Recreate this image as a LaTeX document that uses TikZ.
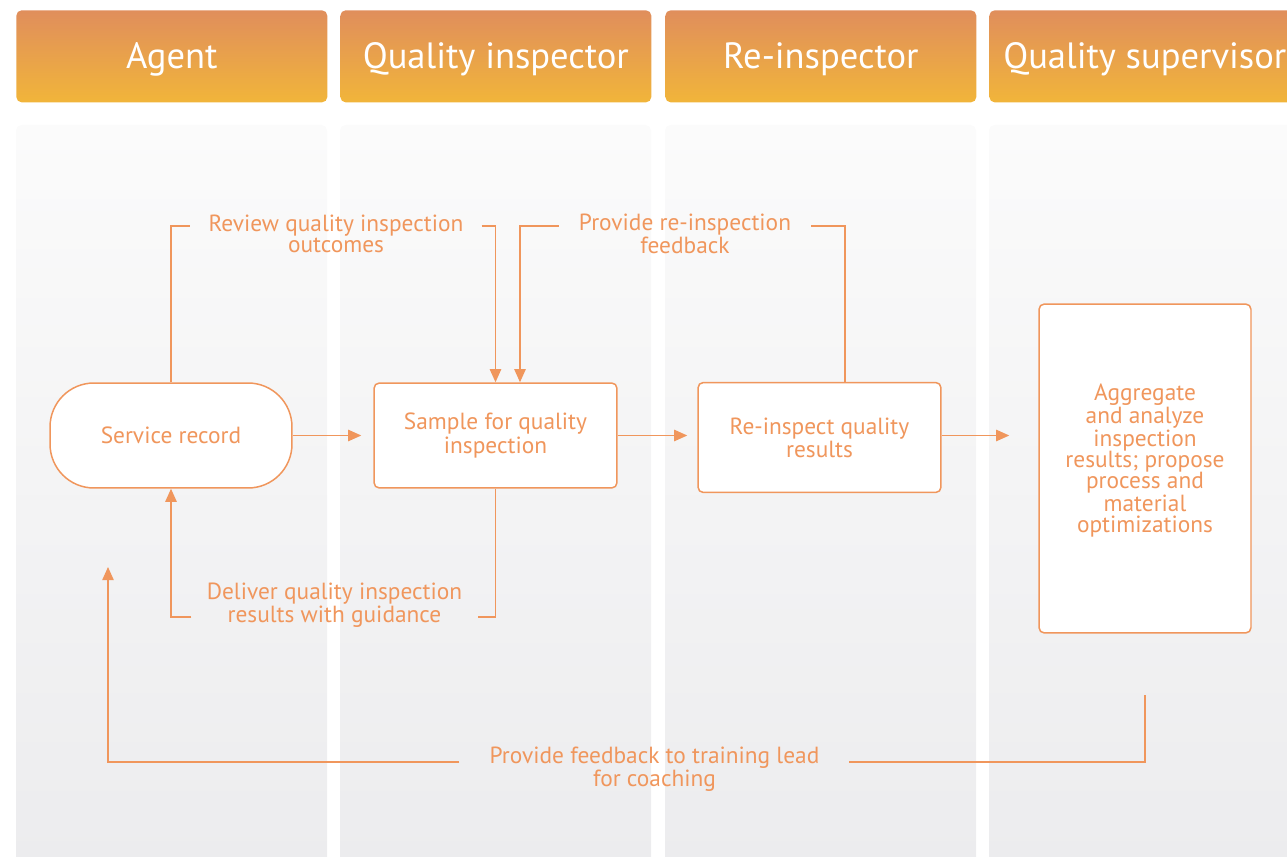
\documentclass[tikz,border=0pt]{standalone}
\usepackage{fontspec}
\setmainfont{PT Sans}
\usetikzlibrary{arrows.meta,calc}

\definecolor{lineorange}{RGB}{240,150,92}
\definecolor{headtop}{RGB}{224,142,92}
\definecolor{headbot}{RGB}{241,181,58}
\definecolor{lanetop}{RGB}{251,251,251}
\definecolor{lanebot}{RGB}{236,236,238}

\begin{document}
\begin{tikzpicture}[x=0.02cm,y=-0.02cm,
    lane/.style={rounded corners=3pt,top color=lanetop,bottom color=lanebot},
    head/.style={rounded corners=3pt,top color=headtop,bottom color=headbot,
      text=white,font=\fontsize{20.8}{22}\selectfont,anchor=north west,
      text height=15pt,text depth=1.4pt,
      minimum width=6.22cm,minimum height=1.84cm},
    box/.style={draw=lineorange,fill=white,rounded corners=3pt,line width=0.85pt,
      text=lineorange,align=center,font=\fontsize{13.3}{12}\selectfont},
    lbl/.style={text=lineorange,align=center,inner sep=0pt,
      font=\fontsize{13.3}{12}\selectfont},
    link/.style={draw=lineorange,line width=0.85pt},
    flow/.style={link,-{Triangle[length=7.5pt,width=6.5pt]}}]
  \clip (0,0) rectangle (1287,857);

  % lanes
  \foreach \x/\name [count=\i] in {16/Agent,340/Quality inspector,665/Re-inspector,989/Quality supervisor}{
    \shade[lane] (\x,125) rectangle ++(311,740);
    \node[head] (head\i) at (\x,10) {\name};
  }

  % steps
  \node[box,rounded corners=25pt,minimum width=4.84cm,minimum height=2.1cm] (rec) at (171,435.5) {Service record};
  \node[box,minimum width=4.86cm,minimum height=2.1cm] (sample) at (495.5,435.5) {Sample for quality\\inspection};
  \node[box,minimum width=4.86cm,minimum height=2.2cm] (reinsp) at (819.5,437.5) {Re-inspect quality\\results};
  \node[box,minimum width=4.24cm,minimum height=6.58cm] (super) at (1145,468.5)
    {Aggregate\\and analyze\\inspection\\results; propose\\process and\\material\\optimizations\\\mbox{}};

  % labels
  \node[lbl] (review) at (336,233.5) {Review quality inspection\\outcomes};
  \node[lbl] (refeed) at (685,233.5) {Provide re-inspection\\feedback};
  \node[lbl] (deliver) at (334.5,605) {Deliver quality inspection\\results with guidance};
  \node[lbl] (coach) at (654.5,769.5) {Provide feedback to training lead\\for coaching};
  \coordinate (coachstart) at (1145,695);
  \coordinate (coachend) at (108,567);

  % main flow
  \draw[flow] (rec.east |- sample.east) -- ($(sample.west)+(-12,0)$);
  \draw[flow] (sample.east) -- ($(sample.east -| reinsp.west)+(-10,0)$);
  \draw[flow] (reinsp.east |- sample.east) -- ($(sample.east -| super.west)+(-29,0)$);

  % loops
  \draw[link] (rec.north) |- ($(review.west)+(-18,-7.5)$);
  \draw[flow] ($(review.east)+(18,-7.5)$) -| (sample.north);
  \draw[link] ($(reinsp.north)+(25.5,0)$) |- ($(refeed.east)+(20,-7.5)$);
  \draw[flow] ($(refeed.west)+(-20,-7.5)$) -| ($(sample.north)+(24.5,0)$);
  \draw[link] (sample.south) |- ($(deliver.east)+(15,12)$);
  \draw[flow] ($(deliver.west)+(-15,12)$) -| (rec.south);
  \draw[link] (coachstart) |- ($(coach.east)+(29,-7.5)$);
  \draw[flow] ($(coach.west)+(-30,-7.5)$) -| (coachend);
\end{tikzpicture}
\end{document}
